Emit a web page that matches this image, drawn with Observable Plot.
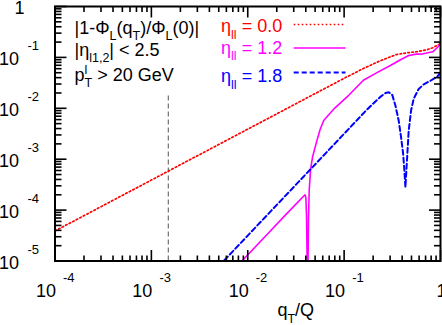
<!DOCTYPE html>
<html><head><meta charset="utf-8">
<script src="https://cdn.jsdelivr.net/npm/d3@7"></script>
<script src="https://cdn.jsdelivr.net/npm/@observablehq/plot@0.6"></script>
<style>
html,body{margin:0;padding:0;background:#fff;}
#chart{width:442px;height:325px;overflow:hidden;}
</style></head><body><div id="chart"></div>
<script>
// ---- data (qT/Q, |1 - Phi_L(qT)/Phi_L(0)|) ----
const qRed   = [1e-4, 1e-3, 1e-2, 0.1, 0.158, 0.234, 0.347, 0.447, 0.562, 0.708, 0.832, 1];
const phiRed = [3.89e-5, 3.89e-4, 3.89e-3, 0.0389, 0.0603, 0.0851, 0.1135, 0.123, 0.129, 0.1396, 0.155, 0.186];

const qMag   = [0.00794, 0.01585, 0.02512, 0.03926, 0.04009, 0.04074, 0.04121, 0.04159, 0.04198, 0.04266, 0.04345, 0.04487, 0.04710, 0.04977, 0.05176, 0.05623, 0.06138, 0.07943, 0.1122, 0.1585, 0.2239, 0.3020, 0.3802, 0.4677, 0.5623, 0.6607, 0.8318, 0.9333, 1];
const phiMag = [8.32e-6, 3.31e-5, 8.32e-5, 2.00e-4, 1.78e-4, 7.41e-5, 1.58e-5, 3.2e-6, 3.2e-6, 6.3e-5, 2.51e-4, 6.31e-4, 1.12e-3, 1.66e-3, 2.19e-3, 3.80e-3, 5.75e-3, 0.0100, 0.0182, 0.0355, 0.0513, 0.0692, 0.0891, 0.1089, 0.1161, 0.1175, 0.1288, 0.1585, 0.186];

const qBlue   = [0.005012, 0.01, 0.03162, 0.1, 0.1637, 0.1995, 0.2399, 0.2692, 0.2904, 0.3162, 0.3404, 0.3681, 0.3899, 0.4093, 0.4217, 0.4325, 0.4508, 0.4677, 0.4955, 0.5272, 0.5943, 0.6699, 0.7852, 0.9290, 1];
const phiBlue = [7.94e-6, 3.16e-5, 3.16e-4, 3.16e-3, 8.51e-3, 0.0123, 0.0170, 0.01995, 0.0207, 0.0182, 0.01135, 5.75e-3, 2.69e-3, 1.29e-3, 6.03e-4, 2.82e-4, 1.10e-3, 3.63e-3, 9.12e-3, 0.0155, 0.0240, 0.0295, 0.0347, 0.0422, 0.0501];

const guideX = [0.0015];
const guideY = [1e-5, 0.018];

const xTickValues = [1e-4, 1e-3, 1e-2, 1e-1, 1];
const xTickExps   = ["-4", "-3", "-2", "-1", ""];
const yTickValues = [1e-5, 1e-4, 1e-3, 1e-2, 1e-1, 1];
const yTickExps   = ["-5", "-4", "-3", "-2", "-1", ""];
const xLabel = "q_{T}/Q";

const noteLines = ["|1-Φ_{L}(q_{T})/Φ_{L}(0)|", "|η_{l1,2}| < 2.5", "p_{T}^{l} > 20 GeV"];
const legendLabels = ["η_{ll} = 0.0", "η_{ll} = 1.2", "η_{ll} = 1.8"];
const seriesColors = ["#ff0000", "#ff00ff", "#0000ff"];

// ---- build ----
const zip = (qs, vs) => qs.map((q, i) => ({q, v: vs[i]}));
const red = zip(qRed, phiRed), mag = zip(qMag, phiMag), blue = zip(qBlue, phiBlue);
const minorX = [-4, -3, -2, -1].flatMap(e => d3.range(2, 10).map(m => m * 10 ** e));
const minorY = [-5, -4, -3, -2, -1].flatMap(e => d3.range(2, 10).map(m => m * 10 ** e));
const majX = xTickValues.filter(v => v < 1), majY = yTickValues.filter(v => v < 1);

const FONT = "'Liberation Sans', Arial, Helvetica, sans-serif";
const noText = () => "";
const tk = {tickFormat: noText, label: null, stroke: "black", strokeWidth: 1.6};
const DOT = "1.6,2.4";

const plot = Plot.plot({
  width: 442, height: 325,
  marginLeft: 54.5, marginRight: 2, marginTop: 6, marginBottom: 64.5,
  style: {fontFamily: FONT, background: "white", color: "black"},
  x: {type: "log", domain: [1e-4, 1], axis: null},
  y: {type: "log", domain: [1e-5, 1], axis: null},
  marks: [
    Plot.ruleX(guideX, {x: d => d, y1: guideY[0], y2: guideY[1], stroke: "#7a7a7a", strokeWidth: 1.3, strokeDasharray: "5,3"}),
    Plot.line(red, {x: "q", y: "v", stroke: seriesColors[0], strokeWidth: 1.7, strokeDasharray: DOT, clip: true}),
    Plot.line(mag, {x: "q", y: "v", stroke: seriesColors[1], strokeWidth: 1.6, clip: true}),
    Plot.line(blue, {x: "q", y: "v", stroke: seriesColors[2], strokeWidth: 2, strokeDasharray: "5,3", clip: true}),
    // ticks (inward, mirrored)
    Plot.axisX(majX.concat([1]), {anchor: "bottom", tickSize: -10.5, ...tk}),
    Plot.axisX(minorX, {anchor: "bottom", tickSize: -5, ...tk}),
    Plot.axisX(majX.concat([1]), {anchor: "top", tickSize: -10.5, ...tk}),
    Plot.axisX(minorX, {anchor: "top", tickSize: -5, ...tk}),
    Plot.axisY(majY.concat([1]), {anchor: "left", tickSize: -12, ...tk}),
    Plot.axisY(minorY, {anchor: "left", tickSize: -7, ...tk}),
    Plot.axisY(majY.concat([1]), {anchor: "right", tickSize: -12, ...tk}),
    Plot.axisY(minorY, {anchor: "right", tickSize: -7, ...tk}),
    Plot.frame({stroke: "black", strokeWidth: 2}),
    // x tick labels
    Plot.text(majX, {x: d => d, frameAnchor: "bottom", text: () => "10", textAnchor: "end", lineAnchor: "bottom", dx: 1, dy: 36, fontSize: 18}),
    Plot.text(majX, {x: d => d, frameAnchor: "bottom", text: (d, i) => xTickExps[i], textAnchor: "start", lineAnchor: "bottom", dx: 8, dy: 21, fontSize: 13}),
    Plot.text([1], {x: d => d, frameAnchor: "bottom", text: () => "1", textAnchor: "middle", lineAnchor: "bottom", dx: 1, dy: 36, fontSize: 18}),
    // y tick labels
    Plot.text(majY, {y: d => d, frameAnchor: "left", text: () => "10", textAnchor: "end", lineAnchor: "bottom", dx: -36, dy: 7.5, fontSize: 18}),
    Plot.text(majY, {y: d => d, frameAnchor: "left", text: (d, i) => yTickExps[i], textAnchor: "end", lineAnchor: "bottom", dx: -16, dy: -7, fontSize: 13}),
    Plot.text([1], {y: d => d, frameAnchor: "left", text: () => "1", textAnchor: "end", lineAnchor: "bottom", dx: -30.5, dy: 7.5, fontSize: 18}),
    // x axis label
    Plot.text([xLabel], {frameAnchor: "bottom", text: d => d, textAnchor: "middle", lineAnchor: "bottom", dx: 48, dy: 55, fontSize: 18}),
    // annotation
    Plot.text([noteLines[0]], {frameAnchor: "top-left", text: d => d, textAnchor: "start", lineAnchor: "bottom", dx: 19.5, dy: 27, fontSize: 18}),
    Plot.text([noteLines[1]], {frameAnchor: "top-left", text: d => d, textAnchor: "start", lineAnchor: "bottom", dx: 19.5, dy: 49, fontSize: 18}),
    Plot.text([noteLines[2]], {frameAnchor: "top-left", text: d => d, textAnchor: "start", lineAnchor: "bottom", dx: 19.5, dy: 74, fontSize: 18}),
    // legend labels
    Plot.text([legendLabels[0]], {frameAnchor: "top-left", text: d => d, textAnchor: "end", lineAnchor: "bottom", dx: 227.2, dy: 25.7, fontSize: 18, fill: seriesColors[0]}),
    Plot.text([legendLabels[1]], {frameAnchor: "top-left", text: d => d, textAnchor: "end", lineAnchor: "bottom", dx: 227.2, dy: 47.3, fontSize: 18, fill: seriesColors[1]}),
    Plot.text([legendLabels[2]], {frameAnchor: "top-left", text: d => d, textAnchor: "end", lineAnchor: "bottom", dx: 227.2, dy: 75.7, fontSize: 18, fill: seriesColors[2]})
  ]
});
document.getElementById("chart").appendChild(plot);

// legend samples
const legendStyles = [
  {w: 1.7, dash: DOT}, {w: 1.6, dash: null}, {w: 2, dash: "5,3"}
];
const legendY = [24.5, 48, 72.5];
const lg = d3.select(plot).append("g");
legendStyles.forEach((s, i) => {
  const l = lg.append("line").attr("x1", 293.7).attr("x2", 345.5)
    .attr("y1", legendY[i]).attr("y2", legendY[i])
    .attr("stroke", seriesColors[i]).attr("stroke-width", s.w);
  if (s.dash) l.attr("stroke-dasharray", s.dash);
});

// enhanced text: _{sub} and ^{sup}
function enhance(svg) {
  const SUB = 6.5, SUP = -7, SMALL = 12.5;
  d3.select(svg).selectAll("text").each(function () {
    const s = this.textContent;
    if (!/[_^]\{/.test(s)) return;
    const parts = [];
    const re = /([_^])\{([^}]*)\}/g;
    let last = 0, m;
    while ((m = re.exec(s))) {
      if (m.index > last) parts.push({t: s.slice(last, m.index), k: ""});
      parts.push({t: m[2], k: m[1]});
      last = re.lastIndex;
    }
    if (last < s.length) parts.push({t: s.slice(last), k: ""});
    this.textContent = "";
    let cur = 0, prev = null, pendingDx = 0;
    parts.forEach((p, i) => {
      const ts = d3.select(this).append("tspan").text(p.t);
      const target = p.k === "_" ? SUB : p.k === "^" ? SUP : 0;
      if (target - cur) ts.attr("dy", target - cur);
      cur = target;
      if (p.k) ts.attr("font-size", SMALL);
      if (p.k === "^" && i > 0 && parts[i - 1].k === "_") {
        const wSub = prev.getComputedTextLength();
        ts.attr("dx", -wSub);
        const wSup = ts.node().getComputedTextLength();
        pendingDx = Math.max(0, wSub - wSup);
      } else if (pendingDx) {
        ts.attr("dx", pendingDx);
        pendingDx = 0;
      }
      prev = ts.node();
    });
  });
}
enhance(plot);
</script></body></html>
